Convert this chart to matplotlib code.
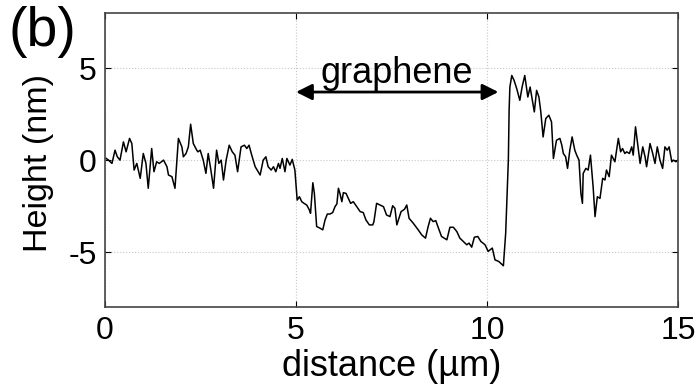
import numpy as np
import matplotlib.pyplot as plt

plt.rcParams['font.family'] = ['Liberation Sans', 'DejaVu Sans']
plt.rcParams['axes.unicode_minus'] = False

# AFM height profile across the graphene flake
distance = [0.03, 0.09, 0.18, 0.26, 0.32, 0.39, 0.48, 0.55, 0.64, 0.70, 0.76, 0.83, 0.92, 1.00,
            1.07, 1.13, 1.22, 1.28, 1.35, 1.42, 1.53, 1.62, 1.66, 1.75, 1.83, 1.92, 2.01, 2.05,
            2.12, 2.18, 2.24, 2.31, 2.40, 2.43, 2.49, 2.57, 2.64, 2.70, 2.77, 2.84, 2.92, 2.98,
            3.04, 3.10, 3.17, 3.25, 3.33, 3.40, 3.47, 3.56, 3.65, 3.71, 3.77, 3.84, 3.93, 4.06,
            4.14, 4.21, 4.27, 4.35, 4.41, 4.47, 4.54, 4.58, 4.64, 4.71, 4.76, 4.84, 4.90, 4.97,
            5.03, 5.09, 5.15, 5.21, 5.28, 5.35, 5.38, 5.44, 5.48, 5.54, 5.63, 5.70, 5.76, 5.82,
            5.89, 5.96, 6.02, 6.07, 6.11, 6.15, 6.20, 6.24, 6.31, 6.37, 6.43, 6.50, 6.59, 6.68,
            6.76, 6.83, 6.92, 7.01, 7.04, 7.11, 7.20, 7.29, 7.37, 7.46, 7.53, 7.59, 7.64, 7.75,
            7.84, 7.90, 7.96, 8.07, 8.20, 8.29, 8.39, 8.46, 8.52, 8.59, 8.66, 8.73, 8.81, 8.95,
            9.03, 9.12, 9.21, 9.29, 9.38, 9.47, 9.53, 9.60, 9.67, 9.76, 9.84, 9.95, 10.03, 10.14,
            10.21, 10.31, 10.43, 10.49, 10.56, 10.58, 10.60, 10.65, 10.71, 10.78, 10.86, 10.92,
            10.99, 11.07, 11.13, 11.19, 11.24, 11.30, 11.36, 11.41, 11.47, 11.54, 11.62, 11.69,
            11.74, 11.82, 11.91, 11.96, 12.00, 12.06, 12.11, 12.17, 12.23, 12.30, 12.35, 12.41,
            12.46, 12.50, 12.52, 12.59, 12.65, 12.71, 12.78, 12.83, 12.89, 12.96, 13.03, 13.09,
            13.13, 13.20, 13.26, 13.35, 13.44, 13.50, 13.55, 13.61, 13.66, 13.73, 13.79, 13.83,
            13.89, 13.96, 14.01, 14.08, 14.14, 14.18, 14.27, 14.34, 14.40, 14.46, 14.53, 14.60,
            14.66, 14.72, 14.77, 14.84, 14.88, 14.95, 15.00]
height = [0.09, 0.00, -0.18, 0.54, 0.18, 0.00, 0.99, 0.45, 1.18, 0.90, -0.54, -0.18, -0.99, 0.36,
          -0.18, -1.53, 0.63, -0.63, -0.09, -0.18, 0.00, -0.36, -0.81, -0.90, -1.53, 1.18, 0.72, 0.18,
          0.36, 0.72, 1.95, 0.90, 0.54, 0.45, 0.54, 0.00, -0.72, 0.36, -0.54, -1.53, 0.54, -0.18,
          0.00, -1.08, 0.00, 0.81, 0.45, 0.27, -0.63, 0.72, 0.81, 0.63, 0.81, 0.27, -0.36, -0.81,
          0.00, 0.18, -0.36, -0.54, -0.36, -0.63, -0.18, -0.45, 0.09, -0.63, 0.09, -0.27, 0.04, -0.54,
          -2.17, -1.99, -2.26, -2.35, -2.44, -2.71, -2.89, -1.23, -1.81, -3.61, -3.70, -3.79, -3.25, -2.93,
          -2.93, -2.85, -2.53, -2.38, -1.53, -1.81, -2.26, -1.77, -1.81, -2.08, -2.35, -2.26, -2.53, -2.80,
          -2.85, -3.25, -3.52, -3.52, -3.34, -2.35, -2.44, -2.53, -2.98, -3.07, -2.48, -2.62, -3.52, -2.80,
          -2.67, -2.44, -3.16, -3.43, -3.79, -4.06, -4.24, -3.61, -3.16, -3.34, -3.29, -3.70, -4.15, -4.33,
          -3.65, -3.65, -3.88, -4.24, -4.42, -4.60, -4.51, -4.73, -4.19, -4.15, -4.42, -4.60, -4.96, -4.78,
          -5.42, -5.51, -5.74, -3.97, 0.00, 2.71, 3.97, 4.60, 4.33, 3.88, 3.25, 3.97,
          4.60, 3.43, 3.97, 3.25, 2.62, 3.79, 3.43, 2.62, 1.26, 2.26, 2.44, 2.08,
          0.09, 1.08, 1.18, 0.81, 0.36, 0.18, -0.45, 0.54, 1.26, 0.54, 0.27, 0.00,
          -1.81, -2.35, -0.72, -0.45, -0.54, 0.27, -1.45, -3.07, -1.99, -2.08, -0.99, -1.08,
          -0.54, -0.90, 0.27, -0.09, 1.18, 0.45, 0.63, 0.36, 0.45, 0.36, 0.72, 0.27,
          1.81, 0.63, -0.18, 0.72, 0.18, -0.36, 0.90, 0.36, -0.18, 0.72, 0.00, -0.45,
          0.72, 0.54, 0.72, -0.09, 0.00, -0.09, 0.00]

graphene_start = 5.0
graphene_end = 10.3
arrow_height = 3.7

fig = plt.figure(figsize=(6.96, 3.91), dpi=100)
ax = fig.add_axes([0.151, 0.214, 0.823, 0.753])

ax.plot(distance, height, color='black', lw=1.1)

ax.set_xlim(0, 15)
ax.set_ylim(-8, 8)
ax.set_xticks([0, 5, 10, 15])
ax.set_yticks([-5, 0, 5])
ax.grid(True, linestyle=':', color='#c8c8c8', lw=0.8)
ax.tick_params(direction='in', top=True, right=True, labelsize=23, length=4, pad=6)
for s in ax.spines.values():
    s.set_color('#444444')
    s.set_linewidth(1.2)

ax.set_xlabel('distance (µm)', fontsize=26)
ax.set_ylabel('Height (nm)', fontsize=24.5)
ax.xaxis.set_label_coords(0.5, -0.14)
ax.yaxis.set_label_coords(-0.09, 0.49)

# graphene region arrow
ax.annotate('', xy=(graphene_start, arrow_height), xytext=(graphene_end, arrow_height),
            arrowprops=dict(arrowstyle='<|-|>', color='black', lw=2, mutation_scale=24,
                            shrinkA=0, shrinkB=0))
ax.text((graphene_start + graphene_end) / 2, arrow_height + 0.5, 'graphene',
        ha='center', va='baseline', fontsize=26)

fig.text(0.012, 0.985, '(b)', fontsize=40, ha='left', va='top')

plt.savefig('out.png', dpi=100)
